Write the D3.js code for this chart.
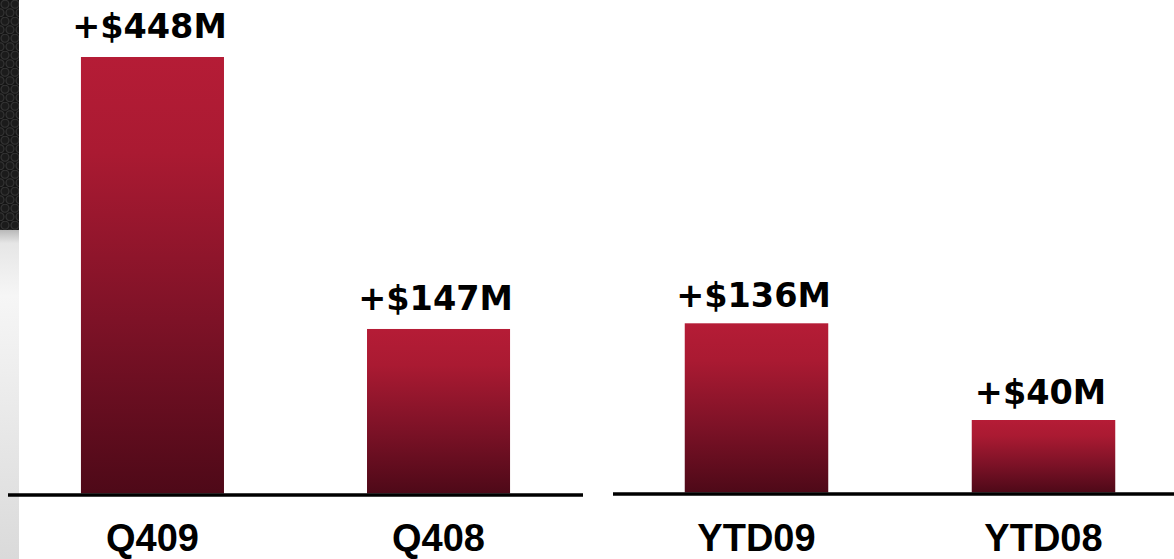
<!DOCTYPE html>
<html>
<head>
<meta charset="utf-8">
<script src="https://cdn.jsdelivr.net/npm/d3@7"></script>
<style>
  html, body { margin: 0; padding: 0; background: #ffffff; }
  svg { display: block; }
</style>
</head>
<body>
<svg id="chart" width="1174" height="559"></svg>
<script>
// Net change figures, quarter-over-quarter and year-to-date
const quarterCategories = ["Q409", "Q408"];
const quarterValues = [448, 147];
const quarterLabels = ["+$448M", "+$147M"];

const ytdCategories = ["YTD09", "YTD08"];
const ytdValues = [136, 40];
const ytdLabels = ["+$136M", "+$40M"];

const W = 1174, H = 559;
const svg = d3.select("#chart");
const defs = svg.append("defs");

// Bar fill: bright crimson fading to deep maroon
const grad = defs.append("linearGradient")
  .attr("id", "barFill").attr("x1", 0).attr("y1", 0).attr("x2", 0).attr("y2", 1);
[[0, "#b51c36"], [0.22, "#aa1a32"], [0.6, "#7e1227"], [1, "#4e0918"]]
  .forEach(([o, c]) => grad.append("stop").attr("offset", o).attr("stop-color", c));

// Hex-mesh texture for the dark strip at the left edge
const pat = defs.append("pattern")
  .attr("id", "mesh").attr("patternUnits", "userSpaceOnUse")
  .attr("width", 10).attr("height", 17);
pat.append("rect").attr("width", 10).attr("height", 17).attr("fill", "#141414");
[[5, 4.25], [0, 12.75], [10, 12.75]].forEach(([cx, cy]) =>
  pat.append("circle").attr("cx", cx).attr("cy", cy).attr("r", 4)
    .attr("fill", "#1b1b1b").attr("stroke", "#333333").attr("stroke-width", 1.2));

const stripGrad = defs.append("linearGradient")
  .attr("id", "stripFill").attr("x1", 0).attr("y1", 0).attr("x2", 0).attr("y2", 1);
[[0, "#b9b9b9"], [0.04, "#e6e6e6"], [0.2, "#f6f6f6"], [1, "#dadada"]]
  .forEach(([o, c]) => stripGrad.append("stop").attr("offset", o).attr("stop-color", c));

svg.append("rect").attr("x", 0).attr("y", 0).attr("width", 19).attr("height", 230)
  .attr("fill", "url(#mesh)");
svg.append("rect").attr("x", 0).attr("y", 230).attr("width", 19).attr("height", H - 230)
  .attr("fill", "url(#stripFill)");

const valueFont = "'DejaVu Sans', Verdana, sans-serif";
const catFont = "'Liberation Sans', Arial, Helvetica, sans-serif";

function drawPanel(cats, vals, labels, cfg) {
  const g = svg.append("g");
  const x = d3.scaleBand().domain(cats).range(cfg.band)
    .paddingInner(0.5).paddingOuter(cfg.outer);
  const y = d3.scaleLinear().domain([0, d3.max(vals)]).range([cfg.zeroY, cfg.topY]);
  const rows = cats.map((c, i) => ({ c, v: vals[i], label: labels[i] }));

  g.selectAll("rect.bar").data(rows).join("rect")
    .attr("class", "bar")
    .attr("x", d => x(d.c))
    .attr("width", x.bandwidth())
    .attr("y", d => y(d.v))
    .attr("height", d => cfg.base - y(d.v))
    .attr("fill", "url(#barFill)");

  // Axis line
  g.append("line")
    .attr("x1", cfg.line[0]).attr("x2", cfg.line[1])
    .attr("y1", cfg.base + 1.5).attr("y2", cfg.base + 1.5)
    .attr("stroke", "#000").attr("stroke-width", 3.6);

  // Value labels above each bar
  g.selectAll("text.val").data(rows).join("text")
    .attr("class", "val")
    .attr("x", d => x(d.c) + x.bandwidth() / 2 - 3)
    .attr("y", d => y(d.v) - cfg.labelGap)
    .attr("text-anchor", "middle")
    .attr("font-family", valueFont)
    .attr("font-weight", "bold")
    .attr("font-size", 33.5)
    .attr("fill", "#000")
    .text(d => d.label);

  // Category labels below the axis
  g.selectAll("text.cat").data(rows).join("text")
    .attr("class", "cat")
    .attr("x", d => x(d.c) + x.bandwidth() / 2)
    .attr("y", 551)
    .attr("text-anchor", "middle")
    .attr("font-family", catFont)
    .attr("font-weight", "bold")
    .attr("font-size", 38)
    .attr("fill", "#000")
    .text(d => d.c);
}

drawPanel(quarterCategories, quarterValues, quarterLabels, {
  band: [8, 583], outer: 0.255, line: [8, 583],
  zeroY: 461.8, topY: 57, base: 493.5, labelGap: 19
});
drawPanel(ytdCategories, ytdValues, ytdLabels, {
  band: [613, 1187], outer: 0.25, line: [613, 1174],
  zeroY: 460.3, topY: 323.3, base: 492.5, labelGap: 16.5
});
</script>
</body>
</html>
